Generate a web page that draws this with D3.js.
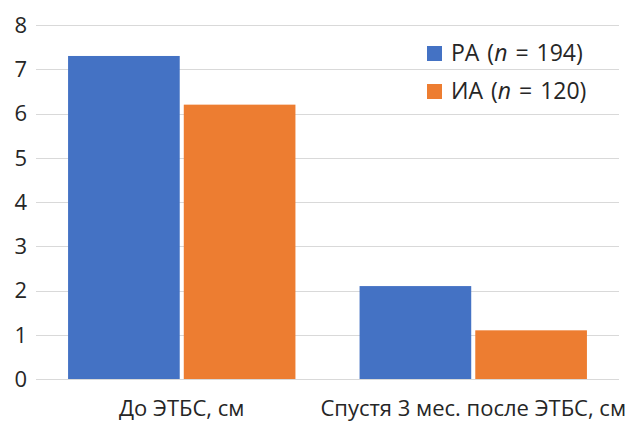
<!DOCTYPE html>
<html>
<head>
<meta charset="utf-8">
<script src="https://cdn.jsdelivr.net/npm/d3@7"></script>
<style>
  body { margin: 0; background: #fff; }
  text { font-family: "Open Sans", "Noto Sans", sans-serif; fill: #262626; }
</style>
</head>
<body>
<div id="chart"></div>
<script>
// Chart data
const categories = ['До ЭТБС, см', 'Спустя 3 мес. после ЭТБС, см'];
const seriesNames = ['РА', 'ИА'];
const seriesN = [194, 120];
const raValues = [7.3, 2.1];
const iaValues = [6.2, 1.1];
const yTicks = [0, 1, 2, 3, 4, 5, 6, 7, 8];
const colors = ['#4472C4', '#ED7D31'];

function drawChart() {
  const width = 631;
  const height = 423;
  const margin = { top: 25, right: 12, bottom: 44, left: 36 };

  const svg = d3.select('#chart')
    .append('svg')
    .attr('width', width)
    .attr('height', height);

  const x0 = d3.scaleBand()
    .domain(categories)
    .range([margin.left, width - margin.right])
    .paddingInner(0.22)
    .paddingOuter(0.11);

  const x1 = d3.scaleBand()
    .domain(seriesNames)
    .range([0, x0.bandwidth()])
    .paddingInner(0.035);

  const y = d3.scaleLinear()
    .domain([0, 8])
    .range([height - margin.bottom, margin.top]);

  // Gridlines
  svg.append('g')
    .selectAll('line')
    .data(yTicks)
    .join('line')
    .attr('x1', margin.left)
    .attr('x2', width - margin.right)
    .attr('y1', d => Math.round(y(d)) + 0.5)
    .attr('y2', d => Math.round(y(d)) + 0.5)
    .attr('stroke', '#d9d9d9')
    .attr('stroke-width', 1.2);

  // Y tick labels
  svg.append('g')
    .selectAll('text')
    .data(yTicks)
    .join('text')
    .attr('x', 27)
    .attr('y', d => y(d))
    .attr('dy', '0.36em')
    .attr('text-anchor', 'end')
    .style('font-size', '22px')
    .text(d => d);

  // Bars
  const data = categories.map((c, i) => ({
    category: c,
    values: [raValues[i], iaValues[i]]
  }));

  svg.append('g')
    .selectAll('g')
    .data(data)
    .join('g')
    .attr('transform', d => `translate(${x0(d.category)},0)`)
    .selectAll('rect')
    .data(d => d.values.map((v, j) => ({ key: seriesNames[j], value: v, color: colors[j] })))
    .join('rect')
    .attr('x', d => x1(d.key))
    .attr('y', d => y(d.value))
    .attr('width', x1.bandwidth())
    .attr('height', d => y(0) - y(d.value))
    .attr('fill', d => d.color);

  // Category labels
  svg.append('g')
    .selectAll('text')
    .data(categories)
    .join('text')
    .attr('x', d => x0(d) + x0.bandwidth() / 2)
    .attr('y', 416)
    .attr('text-anchor', 'middle')
    .style('font-size', '22px')
    .text(d => d);

  // Legend
  const legend = svg.append('g')
    .selectAll('g')
    .data(seriesNames)
    .join('g')
    .attr('transform', (d, i) => `translate(427,${46 + i * 38})`);

  legend.append('rect')
    .attr('width', 15)
    .attr('height', 15)
    .attr('fill', (d, i) => colors[i]);

  const lt = legend.append('text')
    .attr('x', 24)
    .attr('y', 15)
    .style('font-size', '23px')
    .style('word-spacing', '2px');
  lt.append('tspan').text(d => d + ' (');
  lt.append('tspan').style('font-style', 'italic').text('n');
  lt.append('tspan').text((d, i) => ' = ' + seriesN[i] + ')');
}

drawChart();
</script>
</body>
</html>
